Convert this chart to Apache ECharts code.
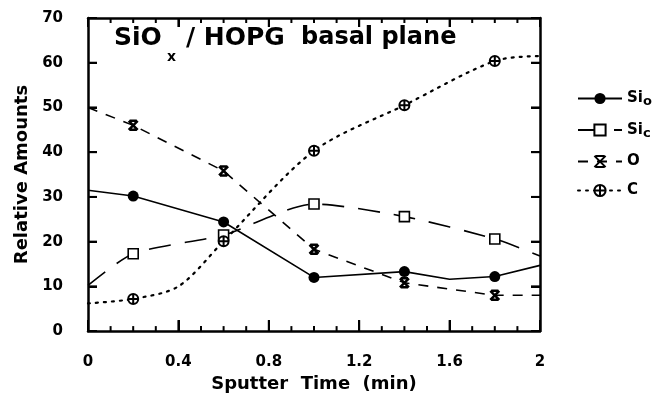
<!DOCTYPE html>
<html>
<head>
<meta charset="utf-8">
<script src="https://cdn.jsdelivr.net/npm/echarts@6/dist/echarts.min.js"></script>
<style>
  html, body { margin: 0; padding: 0; background: #fff; }
  #chart { width: 653px; height: 398px; }
</style>
</head>
<body>
<div id="chart"></div>
<script>
// Sputter times (min) at which samples were measured (marked points)
const sampleTimes = [0.2, 0.6, 1.0, 1.4, 1.8];

// Si (oxide) – solid line, filled circles
const sioTime = [0, 0.2, 0.6, 1.0, 1.4, 1.6, 1.8, 2.0];
const sioVals = [31.5, 30.2, 24.4, 12.0, 13.3, 11.6, 12.2, 14.7];

// Si (carbide) – long dashes, open squares
const sicTime = [0, 0.2, 0.6, 1.0, 1.4, 1.8, 2.0];
const sicVals = [10.2, 17.3, 21.5, 28.4, 25.6, 20.6, 16.8];

// Oxygen – dashes, crosses
const oTime = [0, 0.2, 0.6, 1.0, 1.4, 1.8, 2.0];
const oVals = [50.0, 46.0, 35.8, 18.3, 10.8, 8.0, 8.0];

// Carbon – dotted, crossed circles
const cTime = [0, 0.2, 0.4, 0.6, 1.0, 1.4, 1.8, 2.0];
const cVals = [6.2, 7.2, 10.0, 20.1, 40.3, 50.5, 60.4, 61.5];

const xTickLabels = ['0', '0.4', '0.8', '1.2', '1.6', '2'];
const yTickLabels = ['0', '10', '20', '30', '40', '50', '60', '70'];

const FONT = 'DejaVu Sans';
const INK = '#000';

function pts(times, vals) {
  return times.map((t, i) => {
    const marked = sampleTimes.some(s => Math.abs(s - t) < 1e-9);
    return marked ? [t, vals[i]] : { value: [t, vals[i]], symbol: 'none' };
  });
}

const crossSymbol = 'path://M0,0 L10,10 M10,0 L0,10 M1,0 L9,0 M1,10 L9,10';
const circlePlus = 'path://M0,5 A5,5 0 1,1 10,5 A5,5 0 1,1 0,5 Z M5,0 L5,10 M0,5 L10,5';

const legendNames = {
  Sio: '{m|Si}{s|o}',
  Sic: '{m|Si}{s|c}',
  O: '{m|O}',
  C: '{m|C}'
};

const titleGraphics = [
  { id: 't1', type: 'text', left: 114, top: 26, style: { text: 'SiO', font: 'bold 25px "DejaVu Sans"', fill: INK } },
  { id: 't2', type: 'text', left: 167, top: 50, style: { text: 'x', font: 'bold 14px "DejaVu Sans"', fill: INK } },
  { id: 't3', type: 'text', left: 186, top: 26, style: { text: '/ HOPG', font: 'bold 25px "DejaVu Sans"', fill: INK } },
  { id: 't4', type: 'text', left: 301, top: 26, style: { text: 'basal plane', font: 'bold 24px "DejaVu Sans"', fill: INK } }
];

const chart = echarts.init(document.getElementById('chart'), null, { renderer: 'canvas' });

function frameLine() {
  return { show: true, onZero: false, lineStyle: { color: INK, width: 2.5 } };
}
function inTick(len) {
  return { show: true, inside: true, length: len, lineStyle: { color: INK, width: 2 } };
}

try {
  chart.setOption({
    animation: false,
    backgroundColor: '#fff',
    textStyle: { fontFamily: FONT, color: INK },
    grid: { left: 88, right: 113, top: 18, bottom: 66, containLabel: false },
    graphic: titleGraphics,
    legend: {
      orient: 'vertical',
      left: 572,
      top: 86,
      itemWidth: 44,
      itemHeight: 14,
      itemGap: 14,
      data: ['Sio', 'Sic', 'O', 'C'],
      formatter: name => legendNames[name],
      textStyle: {
        rich: {
          m: { fontFamily: FONT, fontWeight: 'bold', fontSize: 15, color: INK },
          s: { fontFamily: FONT, fontWeight: 'bold', fontSize: 13, color: INK, padding: [7, 0, 0, 0] }
        }
      }
    },
    xAxis: [
      {
        type: 'value', min: 0, max: 2, interval: 0.4, position: 'bottom', z: 10,
        name: 'Sputter  Time  (min)', nameLocation: 'middle', nameGap: 41,
        nameTextStyle: { fontFamily: FONT, fontWeight: 'bold', fontSize: 18, color: INK },
        axisLine: frameLine(),
        axisTick: inTick(11),
        axisLabel: {
          margin: 24, fontFamily: FONT, fontWeight: 'bold', fontSize: 15, color: INK,
          formatter: (v) => xTickLabels[Math.round(v / 0.4)]
        },
        splitLine: { show: false }
      },
      {
        type: 'value', min: 0, max: 2, interval: 0.4, position: 'top', z: 10,
        axisLine: frameLine(),
        axisTick: inTick(9),
        axisLabel: { show: false },
        splitLine: { show: false }
      }
    ],
    yAxis: [
      {
        type: 'value', min: 0, max: 70, interval: 10, position: 'left', z: 10,
        name: 'Relative Amounts', nameLocation: 'middle', nameGap: 57,
        nameTextStyle: { fontFamily: FONT, fontWeight: 'bold', fontSize: 18, color: INK },
        axisLine: frameLine(),
        axisTick: inTick(9),
        axisLabel: {
          margin: 25, fontFamily: FONT, fontWeight: 'bold', fontSize: 15, color: INK,
          formatter: (v) => yTickLabels[Math.round(v / 10)]
        },
        splitLine: { show: false }
      },
      {
        type: 'value', min: 0, max: 70, interval: 10, position: 'right', z: 10,
        axisLine: frameLine(),
        axisTick: inTick(9),
        axisLabel: { show: false },
        splitLine: { show: false }
      }
    ],
    series: [
      {
        name: 'Sio', type: 'line', smooth: false,
        data: pts(sioTime, sioVals),
        symbol: 'circle', symbolSize: 11,
        itemStyle: { color: INK },
        lineStyle: { color: INK, width: 1.6, type: 'solid' }
      },
      {
        name: 'Sic', type: 'line', smooth: 0.25,
        data: pts(sicTime, sicVals),
        symbol: 'rect', symbolSize: 10,
        itemStyle: { color: '#fff', borderColor: INK, borderWidth: 1.6 },
        lineStyle: { color: INK, width: 1.6, type: [22, 14] }
      },
      {
        name: 'O', type: 'line', smooth: false,
        data: pts(oTime, oVals),
        symbol: crossSymbol, symbolSize: 9,
        itemStyle: { color: INK, borderColor: INK, borderWidth: 2.5 },
        lineStyle: { color: INK, width: 1.6, type: [10, 9] }
      },
      {
        name: 'C', type: 'line', smooth: 0.3,
        data: pts(cTime, cVals),
        symbol: circlePlus, symbolSize: 10,
        itemStyle: { color: '#fff', borderColor: INK, borderWidth: 2 },
        lineStyle: { color: INK, width: 2.2, type: [2, 6], cap: 'round' }
      }
    ]
  });
} catch (e) {
  console.error(e);
}

// Inward tick marks on all four sides of the frame (including 0.1-min minor ticks),
// positioned through the axis scales and drawn on their own layer above the plot.
try {
  const yBottom = chart.convertToPixel({ yAxisIndex: 0 }, 0);
  const yTop = chart.convertToPixel({ yAxisIndex: 0 }, 70);
  const xLeft = chart.convertToPixel({ xAxisIndex: 0 }, 0);
  const xRight = chart.convertToPixel({ xAxisIndex: 0 }, 2);
  const ticks = [];
  const bar = (id, x, y, w, h) => ({
    id: id, type: 'rect', zlevel: 1, z: 100, silent: true,
    shape: { x: x, y: y, width: w, height: h },
    style: { fill: INK }
  });
  for (let k = 1; k < 20; k++) {
    const px = chart.convertToPixel({ xAxisIndex: 0 }, k / 10);
    const major = k % 4 === 0;
    const lenB = major ? 11 : 5;
    const lenT = major ? 9 : 5;
    ticks.push(bar('xb' + k, px - 1, yBottom - lenB, 2, lenB));
    ticks.push(bar('xt' + k, px - 1, yTop, 2, lenT));
  }
  for (let v = 10; v < 70; v += 10) {
    const py = chart.convertToPixel({ yAxisIndex: 0 }, v);
    ticks.push(bar('yl' + v, xLeft, py - 1, 9, 2));
    ticks.push(bar('yr' + v, xRight - 9, py - 1, 9, 2));
  }
  chart.setOption({ graphic: ticks });
} catch (e) {
  console.error(e);
}
</script>
</body>
</html>
